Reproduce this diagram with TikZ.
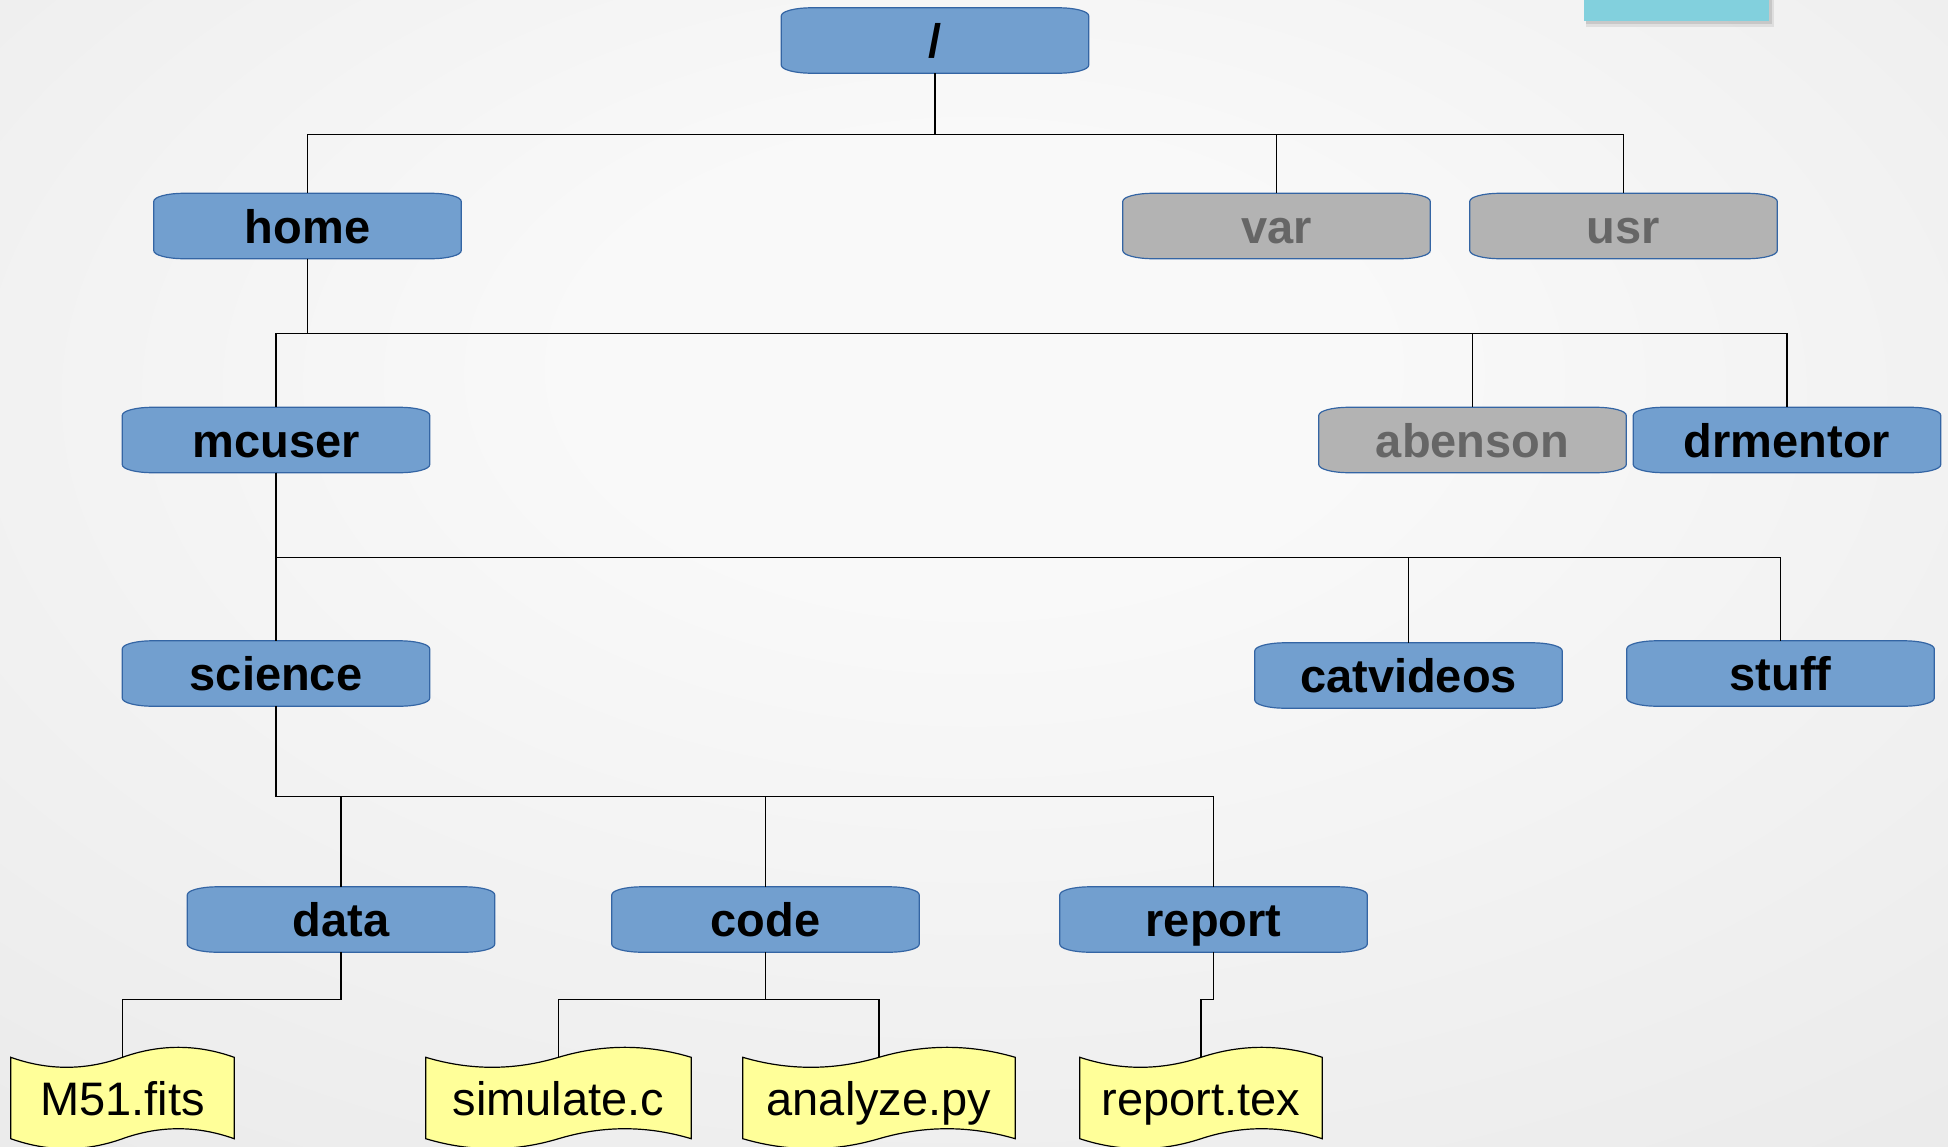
\documentclass[tikz,border=0pt]{standalone}
\usepackage{fontspec}
\setmainfont{Liberation Sans}
\usetikzlibrary{calc}

\definecolor{bgA}{HTML}{F9F9F9}
\definecolor{bgB}{HTML}{DBDBDB}
\definecolor{dirblue}{HTML}{729FCF}
\definecolor{dirgray}{HTML}{B3B3B3}
\definecolor{boxedge}{HTML}{3465A4}
\definecolor{txtgray}{HTML}{666666}
\definecolor{fileyellow}{HTML}{FFFF99}
\definecolor{cyanbar}{HTML}{82D0DD}

\pgfdeclareradialshading{slidebg}{\pgfpoint{0bp}{10bp}}{color(0bp)=(bgA); color(10bp)=(bgA); color(72bp)=(bgB); color(100bp)=(bgB)}

\pgfdeclarelayer{bglayer}
\pgfdeclarelayer{shapelayer}
\pgfsetlayers{bglayer,shapelayer,main}

% directory box: rectangle with flattened elliptical corners
\newcommand\dirshape[2]{%
  \path[draw=boxedge, line width=1.2pt, fill=#2]
    ([xshift=30pt]#1.north west) -- ([xshift=-30pt]#1.north east)
    arc[start angle=90, end angle=0, x radius=30pt, y radius=8pt]
    -- ([yshift=8pt]#1.south east)
    arc[start angle=0, end angle=-90, x radius=30pt, y radius=8pt]
    -- ([xshift=30pt]#1.south west)
    arc[start angle=270, end angle=180, x radius=30pt, y radius=8pt]
    -- ([yshift=-8pt]#1.north west)
    arc[start angle=180, end angle=90, x radius=30pt, y radius=8pt]
    -- cycle;}

% file box: punched-tape outline with wavy top and bottom
\newcommand\fileshape[1]{%
  \path[draw=black, line width=1.2pt, fill=fileyellow]
    (#1.north west)
    .. controls ($(#1.north west)!1/6!(#1.north east)+(0,-13.3)$) and ($(#1.north west)!1/3!(#1.north east)+(0,-13.3)$) .. (#1.north)
    .. controls ($(#1.north west)!2/3!(#1.north east)+(0,13.3)$) and ($(#1.north west)!5/6!(#1.north east)+(0,13.3)$) .. (#1.north east)
    -- (#1.south east)
    .. controls ($(#1.south west)!5/6!(#1.south east)+(0,13.3)$) and ($(#1.south west)!2/3!(#1.south east)+(0,13.3)$) .. (#1.south)
    .. controls ($(#1.south west)!1/3!(#1.south east)+(0,-13.3)$) and ($(#1.south west)!1/6!(#1.south east)+(0,-13.3)$) .. (#1.south west)
    -- cycle;}

\begin{document}
\begin{tikzpicture}[x=1pt, y=1pt,
  dirbox/.style={minimum width=307pt, minimum height=65pt, inner sep=0pt,
    text height=34pt, text depth=0pt, font=\fontsize{47}{56}\selectfont\bfseries},
  otherbox/.style={dirbox, text=txtgray},
  filebox/.style={minimum height=81pt, inner sep=0pt,
    text height=34pt, text depth=0pt, font=\fontsize{47}{56}\selectfont},
  conn/.style={draw=black, line width=1.3pt}]

\useasboundingbox (0,0) rectangle (1948,-1146);
\begin{pgfonlayer}{bglayer}
  \shade[shading=slidebg] (0,0) rectangle (1948,-1146);
\end{pgfonlayer}

% bar at the top right with its soft shadow
\fill[black, opacity=0.08] (1586,0) rectangle (1774,-27);
\fill[black, opacity=0.10] (1586,0) rectangle (1772,-24);
\fill[cyanbar] (1584,0) rectangle (1769,-21);

% directories
\node[dirbox] (root) at (935,-40.5) {/};
\node[dirbox] (home) at (307.5,-226) {home};
\node[otherbox] (var) at (1276.5,-226) {var};
\node[otherbox] (usr) at (1623.5,-226) {usr};
\node[dirbox] (mcuser) at (276,-440) {mcuser};
\node[otherbox] (abenson) at (1472.5,-440) {abenson};
\node[dirbox] (drmentor) at (1787,-440) {drmentor};
\node[dirbox] (science) at (276,-673.5) {science};
\node[dirbox] (catvideos) at (1408.5,-675.5) {catvideos};
\node[dirbox] (stuff) at (1780.5,-673.5) {stuff};
\node[dirbox] (data) at (341,-919.5) {data};
\node[dirbox] (code) at (765.5,-919.5) {code};
\node[dirbox] (report) at (1213.5,-919.5) {report};

% files
\node[filebox, minimum width=223pt] (m51) at (122.5,-1098) {M51.fits};
\node[filebox, minimum width=265pt] (simulate) at (558.5,-1098) {simulate.c};
\node[filebox, minimum width=272pt] (analyze) at (879,-1098) {analyze.py};
\node[filebox, minimum width=242pt] (reporttex) at (1201,-1098) {report.tex};

\begin{pgfonlayer}{shapelayer}
  \foreach \n in {root,home,mcuser,drmentor,science,catvideos,stuff,data,code,report}
    {\dirshape{\n}{dirblue}}
  \foreach \n in {var,usr,abenson}
    {\dirshape{\n}{dirgray}}
  \foreach \n in {m51,simulate,analyze,reporttex}
    {\fileshape{\n}}
\end{pgfonlayer}

% tree connectors
\foreach \c in {home,var,usr}
  \draw[conn] (root.south) -- ++(0,-61.5) -| (\c.north);
\foreach \c in {mcuser,abenson,drmentor}
  \draw[conn] (home.south) -- ++(0,-75) -| (\c.north);
\foreach \c in {science,catvideos,stuff}
  \draw[conn] (mcuser.south) -- ++(0,-85) -| (\c.north);
\foreach \c in {data,code,report}
  \draw[conn] (science.south) -- ++(0,-90) -| (\c.north);
\draw[conn] (data.south) -- ++(0,-47) -| (m51.north);
\foreach \c in {simulate,analyze}
  \draw[conn] (code.south) -- ++(0,-47) -| (\c.north);
\draw[conn] (report.south) -- ++(0,-47) -| (reporttex.north);

\end{tikzpicture}
\end{document}
